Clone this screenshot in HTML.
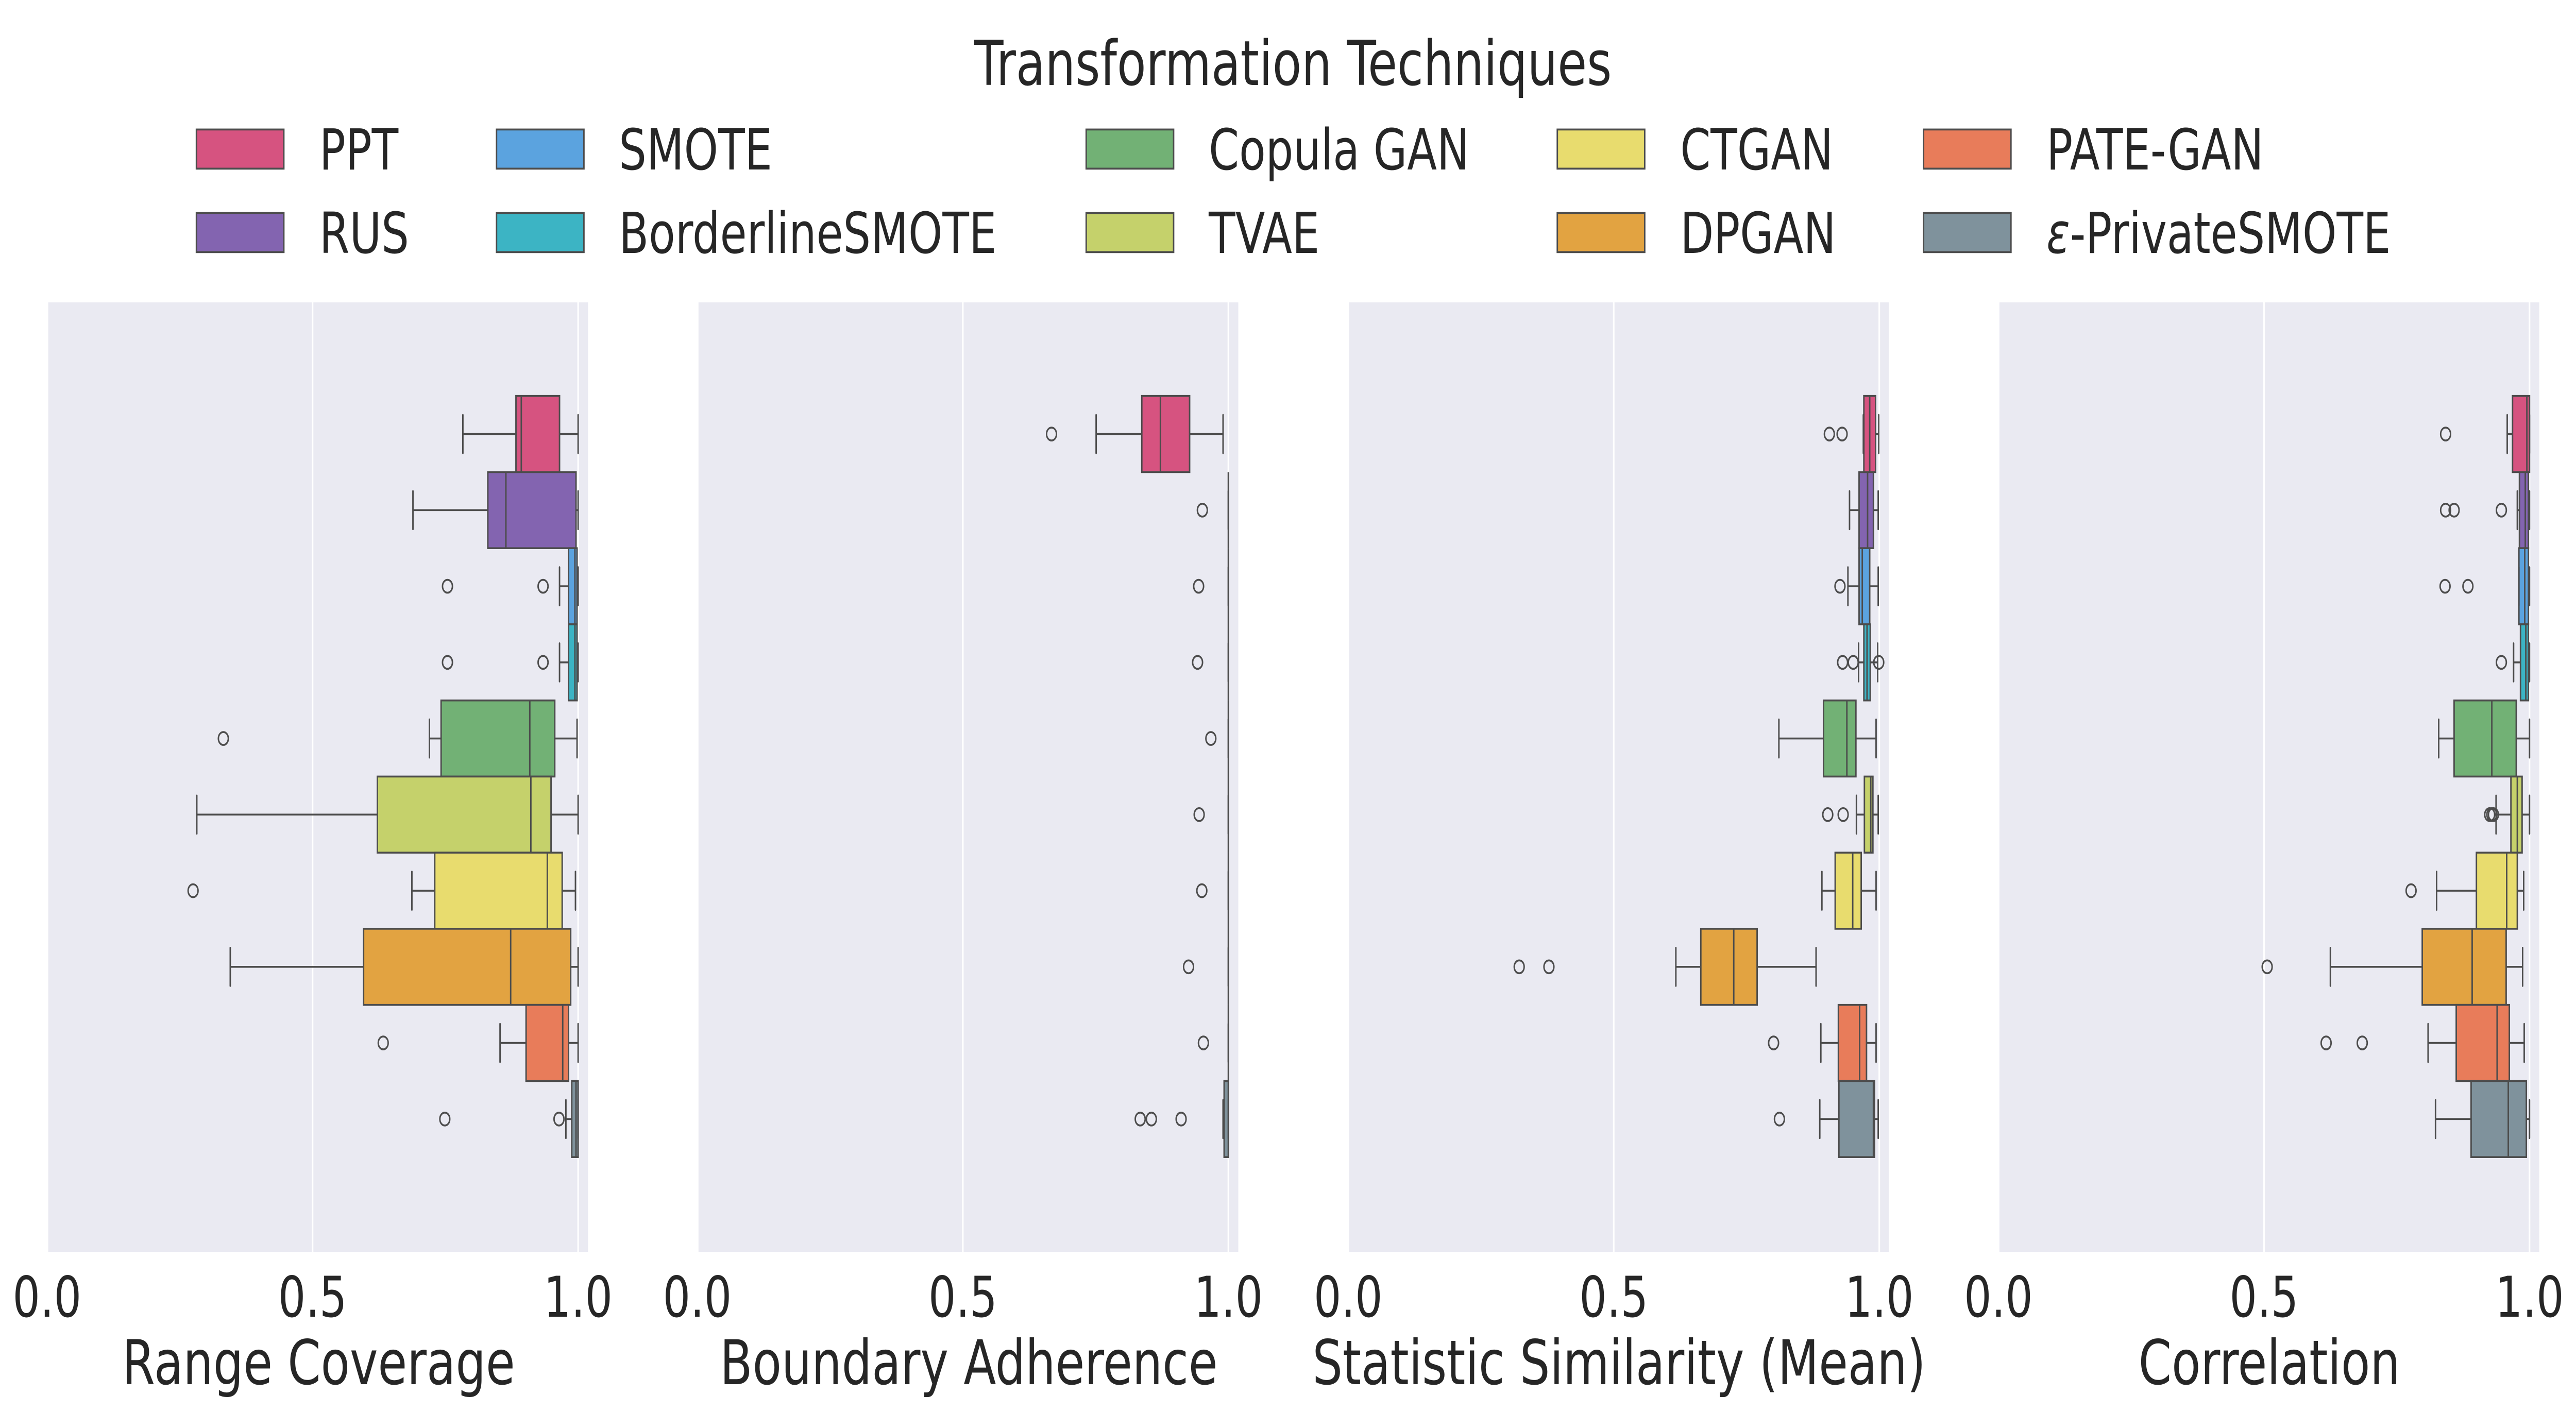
<!DOCTYPE html>
<html lang="en">
<head>
<meta charset="utf-8">
<title>Transformation Techniques boxplots</title>
<style>
html,body{margin:0;padding:0;background:#fff;width:100%;height:100%;overflow:hidden;}
svg{display:block;width:100vw;height:100vh;overflow:hidden;}
text{font-family:"DejaVu Sans","Liberation Sans",sans-serif;fill:#262626;}
.leg{font-size:109.5px;}
.tick{font-size:109px;text-anchor:middle;}
.axl{font-size:119.5px;text-anchor:middle;}
.sw{stroke:#4c4c4c;stroke-width:3.7;}
</style>
</head>
<body>
<svg id="figure" xmlns="http://www.w3.org/2000/svg" viewBox="0 0 6485 2741" preserveAspectRatio="none">
  <rect x="0" y="0" width="6485" height="2741" fill="#ffffff"/>
  <g id="panels"></g>
  <g>
    <text x="3255" y="165" text-anchor="middle" font-size="120">Transformation Techniques</text>
    <g><rect class="sw" x="494.5" y="251.4" width="220" height="76" fill="#D65380"/><text class="leg" x="804" y="329">PPT</text></g>
    <g><rect class="sw" x="494.5" y="413.4" width="220" height="76" fill="#8364B0"/><text class="leg" x="804" y="491">RUS</text></g>
    <g><rect class="sw" x="1250" y="251.4" width="220" height="76" fill="#5BA3DF"/><text class="leg" x="1558" y="329">SMOTE</text></g>
    <g><rect class="sw" x="1250" y="413.4" width="220" height="76" fill="#3CB4C4"/><text class="leg" x="1558" y="491">BorderlineSMOTE</text></g>
    <g><rect class="sw" x="2734.5" y="251.4" width="220" height="76" fill="#72B175"/><text class="leg" x="3043" y="329">Copula GAN</text></g>
    <g><rect class="sw" x="2734.5" y="413.4" width="220" height="76" fill="#C5D16B"/><text class="leg" x="3043" y="491">TVAE</text></g>
    <g><rect class="sw" x="3920.5" y="251.4" width="220" height="76" fill="#E8DC6E"/><text class="leg" x="4230" y="329">CTGAN</text></g>
    <g><rect class="sw" x="3920.5" y="413.4" width="220" height="76" fill="#E2A341"/><text class="leg" x="4230" y="491">DPGAN</text></g>
    <g><rect class="sw" x="4842.5" y="251.4" width="220" height="76" fill="#E87C5A"/><text class="leg" x="5152" y="329">PATE-GAN</text></g>
    <g><rect class="sw" x="4842.5" y="413.4" width="220" height="76" fill="#7F929C"/><text class="leg" x="5152" y="491"><tspan font-style="italic">ε</tspan>-PrivateSMOTE</text></g>
  </g>
  <text class="axl" x="802" y="2687">Range Coverage</text>
  <text class="axl" x="2439" y="2687">Boundary Adherence</text>
  <text class="axl" x="4076" y="2687">Statistic Similarity (Mean)</text>
  <text class="axl" x="5713" y="2687">Correlation</text>
</svg>
<script>
const categories = ["PPT","RUS","SMOTE","BorderlineSMOTE","Copula GAN","TVAE","CTGAN","DPGAN","PATE-GAN","e-PrivateSMOTE"];
const boxColors = ["#D65380","#8364B0","#5BA3DF","#3CB4C4","#72B175","#C5D16B","#E8DC6E","#E2A341","#E87C5A","#7F929C"];
const tickValues = [0,0.5,1];
const tickLabels = ["0.0","0.5","1.0"];

const rangeCoverageLow = [0.783,0.689,0.965,0.965,0.720,0.282,0.687,0.345,0.853,0.977];
const rangeCoverageQ1 = [0.883,0.830,0.982,0.982,0.742,0.622,0.730,0.596,0.902,0.988];
const rangeCoverageMedian = [0.893,0.864,0.994,0.994,0.909,0.911,0.942,0.873,0.971,0.996];
const rangeCoverageQ3 = [0.965,0.996,0.998,0.998,0.956,0.949,0.970,0.986,0.982,1.000];
const rangeCoverageHigh = [1.000,1.000,1.000,1.000,0.998,1.000,0.995,1.000,1.000,1.000];
const rangeCoverageOutliers = [[],[],[0.754,0.934],[0.754,0.934],[0.332],[],[0.275],[],[0.633],[0.749,0.964]];

const boundaryAdherenceLow = [0.751,1,1,1,1,1,1,1,1,0.990];
const boundaryAdherenceQ1 = [0.837,1,1,1,1,1,1,1,1,0.992];
const boundaryAdherenceMedian = [0.872,1,1,1,1,1,1,1,1,1.000];
const boundaryAdherenceQ3 = [0.927,1,1,1,1,1,1,1,1,1.000];
const boundaryAdherenceHigh = [0.990,1,1,1,1,1,1,1,1,1.000];
const boundaryAdherenceOutliers = [[0.667],[0.951],[0.944],[0.942],[0.967],[0.945],[0.950],[0.925],[0.953],[0.834,0.855,0.911]];

const statisticSimilarityLow = [0.970,0.944,0.941,0.961,0.811,0.957,0.892,0.617,0.890,0.888];
const statisticSimilarityQ1 = [0.971,0.962,0.962,0.971,0.895,0.972,0.917,0.664,0.923,0.924];
const statisticSimilarityMedian = [0.982,0.978,0.968,0.977,0.939,0.984,0.950,0.726,0.963,0.989];
const statisticSimilarityQ3 = [0.993,0.989,0.982,0.983,0.956,0.988,0.966,0.770,0.976,0.991];
const statisticSimilarityHigh = [0.999,0.998,0.998,0.997,0.994,0.998,0.994,0.881,0.994,0.998];
const statisticSimilarityOutliers = [[0.906,0.930],[],[0.926],[0.931,0.951,0.999],[],[0.903,0.932],[],[0.322,0.378],[0.801],[0.812]];

const correlationLow = [0.958,0.977,0.980,0.970,0.829,0.937,0.825,0.625,0.809,0.823];
const correlationQ1 = [0.968,0.981,0.980,0.983,0.858,0.965,0.900,0.798,0.862,0.890];
const correlationMedian = [0.995,0.992,0.991,0.993,0.929,0.977,0.957,0.892,0.939,0.960];
const correlationQ3 = [1.000,0.998,0.998,0.998,0.975,0.986,0.977,0.956,0.962,0.994];
const correlationHigh = [1.000,1.000,1.000,1.000,1.000,1.000,0.989,0.987,0.990,1.000];
const correlationOutliers = [[0.842],[0.842,0.858,0.947],[0.841,0.884],[0.947],[],[0.925,0.929,0.932],[0.777],[0.506],[0.617,0.685],[]];

const panels = [
  {key:"range-coverage", left:121.4, zero:118.4, low:rangeCoverageLow, q1:rangeCoverageQ1, med:rangeCoverageMedian, q3:rangeCoverageQ3, high:rangeCoverageHigh, out:rangeCoverageOutliers},
  {key:"boundary-adherence", left:1758.4, zero:1755.4, low:boundaryAdherenceLow, q1:boundaryAdherenceQ1, med:boundaryAdherenceMedian, q3:boundaryAdherenceQ3, high:boundaryAdherenceHigh, out:boundaryAdherenceOutliers},
  {key:"statistic-similarity", left:3396, zero:3394, low:statisticSimilarityLow, q1:statisticSimilarityQ1, med:statisticSimilarityMedian, q3:statisticSimilarityQ3, high:statisticSimilarityHigh, out:statisticSimilarityOutliers},
  {key:"correlation", left:5033.5, zero:5031, low:correlationLow, q1:correlationQ1, med:correlationMedian, q3:correlationQ3, high:correlationHigh, out:correlationOutliers}
];

const NS = "http://www.w3.org/2000/svg";
const axisWidth = 1359, axisTop = 587, axisBottom = 2430, unitPx = 1337;
const firstRowTop = 768.7, rowPx = 147.75, capHalf = 37, edge = "#4c4c4c", lw = 3.7;

function xScale(panel, v){ return panel.zero + v * unitPx; }
function yRowTop(i){ return firstRowTop + i * rowPx; }
function yRowMid(i){ return firstRowTop + (i + 0.5) * rowPx; }
function make(parent, tag, attrs){
  const el = document.createElementNS(NS, tag);
  for (const k in attrs) el.setAttribute(k, attrs[k]);
  parent.appendChild(el);
  return el;
}
function segment(parent, x1, y1, x2, y2, cap){
  return make(parent, "line", {x1:x1, y1:y1, x2:x2, y2:y2, stroke:edge, "stroke-width":lw, "stroke-linecap":cap});
}

const root = document.getElementById("panels");
panels.forEach(function(p){
  const g = make(root, "g", {});
  
  

  const bg = make(g, "rect", {x:p.left, y:axisTop, width:axisWidth, height:axisBottom-axisTop, fill:"#EAEAF2"});
  
  

  tickValues.forEach(function(v, t){
    const px = xScale(p, v);
    if (px >= p.left) {
      const grid = make(g, "line", {x1:px, x2:px, y1:axisTop, y2:axisBottom, stroke:"#ffffff", "stroke-width":4});
      
      
    }
    const label = make(g, "text", {"class":"tick", x:px, y:2556});
    label.textContent = tickLabels[t];
    
    
  });

  categories.forEach(function(cat, i){
    const box = make(g, "g", {});
    
    

    const top = yRowTop(i), bottom = top + rowPx, mid = yRowMid(i);
    const xl = xScale(p, p.low[i]), xa = xScale(p, p.q1[i]), xm = xScale(p, p.med[i]), xb = xScale(p, p.q3[i]), xh = xScale(p, p.high[i]);

    const body = make(box, "path", {d:"M"+xa+" "+top+"H"+xb+"V"+bottom+"H"+xa+"Z", fill:boxColors[i], stroke:edge, "stroke-width":lw, "stroke-linejoin":"miter"});
    
    

    const whiskerLow = segment(box, xl, mid, xa, mid, "butt");
    
    

    const whiskerHigh = segment(box, xb, mid, xh, mid, "butt");
    
    

    const capLow = segment(box, xl, mid-capHalf, xl, mid+capHalf, "round");
    
    

    const capHigh = segment(box, xh, mid-capHalf, xh, mid+capHalf, "round");
    
    

    const median = segment(box, xm, top, xm, bottom, "butt");
    
    

    p.out[i].forEach(function(v){
      const flier = make(box, "circle", {cx:xScale(p, v), cy:mid, r:12.5, fill:"none", stroke:edge, "stroke-width":lw});
      
      
    });
  });
});
</script>
</body>
</html>
